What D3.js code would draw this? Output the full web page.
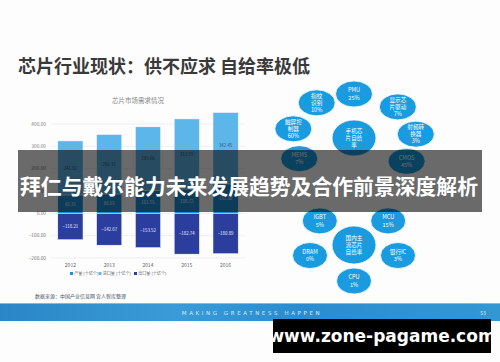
<!DOCTYPE html>
<html>
<head>
<meta charset="utf-8">
<script src="https://cdn.jsdelivr.net/npm/d3@7"></script>
<style>
  body { margin: 0; background: #fff; }
  svg { display: block; font-family: "Noto Sans CJK SC", "Noto Sans", sans-serif; }
</style>
</head>
<body>
<svg width="500" height="362"></svg>
<script>
// chart data (十亿个)
var years = ["2012", "2013", "2014", "2015", "2016"];
var production = [82.31, 86.65, 101.55, 108.72, 131.80];
var imports = [241.82, 266.31, 285.66, 313.99, 342.45];
var exports = [-118.21, -142.67, -153.52, -182.74, -180.89];
var yTicks = [-200, -100, 0, 100, 200, 300, 400];
var seriesNames = ["产量 (十亿个)", "进口量 (十亿个)", "出口量 (十亿个)"];

// bubble diagram
var phoneLabels = [["指纹", "识别", "10%"], ["PMU", "25%"], ["显示芯", "片驱动", "7%"], ["射频转", "换器", "3%"],
  ["CMOS", "45%"], ["MEMS", "7%"], ["触屏控", "制器", "60%"]];
var domesticLabels = [["IGBT", "5%"], ["MCU", "15%"], ["银行IC", "3%"], ["CPU", "1%"], ["DRAM", "0%"]];

var svg = d3.select("svg"),
  colors = ["#1f8fd6", "#5db6ea", "#2b3e9e"];

svg.append("rect").attr("width", 500).attr("height", 362).attr("fill", "#fdfdfd");

// page title
svg.append("text")
  .attr("x", 18).attr("y", 73)
  .attr("font-size", 18).attr("font-weight", "bold").attr("fill", "#3a3a3a")
  .text("芯片行业现状：供不应求 自给率极低");

// ---------- bar chart ----------
var x = d3.scaleBand().domain(years).range([51, 245]).paddingInner(0.35).paddingOuter(0.175);
var y = d3.scaleLinear().domain([-200, 450]).range([258, 112.8]);

svg.append("text")
  .attr("x", 138).attr("y", 103).attr("text-anchor", "middle")
  .attr("font-size", 6.5).attr("fill", "#888")
  .text("芯片市场需求情况");

var grid = svg.append("g");
grid.selectAll("line").data(yTicks).enter().append("line")
  .attr("x1", 51).attr("x2", 245)
  .attr("y1", function(d) { return y(d); }).attr("y2", function(d) { return y(d); })
  .attr("stroke", "#e6e6e6").attr("stroke-width", 0.6);
grid.selectAll("text").data(yTicks).enter().append("text")
  .attr("x", 46).attr("y", function(d) { return y(d) + 1.8; })
  .attr("text-anchor", "end").attr("font-size", 4.8).attr("fill", "#777")
  .text(function(d) { return d3.format(".2f")(d); });

// bars run past the top of the plot (2016) and get cut off
svg.append("clipPath").attr("id", "plot")
  .append("rect").attr("x", 40).attr("y", y(450)).attr("width", 220).attr("height", y(-200) - y(450) + 5);

var segs = [];
years.forEach(function(yr, i) {
  segs.push({year: yr, key: 0, v0: 0, v1: production[i], label: production[i]});
  segs.push({year: yr, key: 1, v0: production[i], v1: production[i] + imports[i], label: imports[i]});
  segs.push({year: yr, key: 2, v0: exports[i], v1: 0, label: exports[i]});
});

var bars = svg.append("g").attr("clip-path", "url(#plot)");
bars.selectAll("rect").data(segs).enter().append("rect")
  .attr("x", function(d) { return x(d.year); })
  .attr("width", x.bandwidth())
  .attr("y", function(d) { return y(d.v1); })
  .attr("height", function(d) { return y(d.v0) - y(d.v1); })
  .attr("fill", function(d) { return colors[d.key]; })
  .attr("stroke", "#fff").attr("stroke-width", 0.5);

svg.append("g").selectAll("text").data(segs).enter().append("text")
  .attr("x", function(d) { return x(d.year) + x.bandwidth() / 2; })
  .attr("y", function(d) { return y((d.v0 + d.v1) / 2) + 1.6; })
  .attr("text-anchor", "middle").attr("font-size", 4.4)
  .attr("fill", function(d) { return d.key == 1 ? "#3a4a5a" : "#e8ecf8"; })
  .text(function(d) { return d3.format(".2f")(d.label); });

svg.append("g").selectAll("text").data(years).enter().append("text")
  .attr("x", function(d) { return x(d) + x.bandwidth() / 2; })
  .attr("y", 267).attr("text-anchor", "middle")
  .attr("font-size", 5).attr("fill", "#666")
  .text(function(d) { return d; });

var legendX = [70, 98.5, 134];
var legend = svg.append("g").selectAll("g").data(seriesNames).enter().append("g")
  .attr("transform", function(d, i) { return "translate(" + legendX[i] + ",275)"; });
legend.append("rect").attr("x", 0).attr("y", -3).attr("width", 3).attr("height", 3)
  .attr("fill", function(d, i) { return colors[i]; });
legend.append("text").attr("x", 4.2).attr("y", 0)
  .attr("font-size", 4.1).attr("fill", "#666")
  .text(function(d) { return d; });

// source
svg.append("text")
  .attr("x", 35).attr("y", 297.5)
  .attr("font-size", 5).attr("fill", "#555")
  .text("数据来源：中国产业信息网 宜人智库整理");

// ---------- bubbles ----------
function bubbleGroup(center, labels, angles, ring, size) {
  var nodes = labels.map(function(l, i) {
    var t = angles[i] * Math.PI / 180;
    return {lines: l, x: center.x + ring[0] * Math.cos(t), y: center.y + ring[1] * Math.sin(t), rx: size[0], ry: size[1]};
  });
  nodes.push({lines: center.lines, x: center.x, y: center.y, rx: center.rx, ry: center.ry});
  var g = svg.append("g").selectAll("g").data(nodes).enter().append("g")
    .attr("transform", function(d) { return "translate(" + d.x + "," + d.y + ")"; });
  g.append("ellipse")
    .attr("rx", function(d) { return d.rx; }).attr("ry", function(d) { return d.ry; })
    .attr("fill", "#1a9be0").attr("stroke", "#fff").attr("stroke-width", 0.8);
  g.append("text")
    .attr("text-anchor", "middle").attr("fill", "#fff")
    .attr("font-size", 5.6)
    .selectAll("tspan").data(function(d) {
      var n = d.lines.length, lh = n > 2 ? 7 : 7.5;
      return d.lines.map(function(t, i) { return {t: t, dy: (i - (n - 1) / 2) * lh + 2}; });
    }).enter().append("tspan")
    .attr("x", 0).attr("y", function(d) { return d.dy; })
    .text(function(d) { return d.t; });
}

bubbleGroup({x: 354, y: 138, rx: 22, ry: 18, lines: ["手机芯", "片自给", "率"]},
  phoneLabels, [-127, -90, -45, -5, 32, 152, 192], [62, 44], [18.5, 13]);
bubbleGroup({x: 354, y: 245, rx: 22, ry: 19, lines: ["国内主", "流芯片", "自给率"]},
  domesticLabels, [-138, -42, 17, 90, 163], [46, 36], [17.5, 13]);

// ---------- footer ----------
var defs = svg.append("defs");
var grad = defs.append("linearGradient").attr("id", "foot");
[["0%", "#2a86c6"], ["35%", "#3a9bd8"], ["60%", "#2a8ccf"], ["100%", "#3397d4"]].forEach(function(s) {
  grad.append("stop").attr("offset", s[0]).attr("stop-color", s[1]);
});
svg.append("rect").attr("x", 0).attr("y", 303).attr("width", 500).attr("height", 18).attr("fill", "url(#foot)");
svg.append("rect").attr("x", 0).attr("y", 303).attr("width", 500).attr("height", 0.8).attr("fill", "#8cc8ee");
svg.append("text")
  .attr("x", 252).attr("y", 314.5).attr("text-anchor", "middle")
  .attr("font-size", 5.5).attr("letter-spacing", 2.6).attr("fill", "#d6ecfa")
  .attr("font-family", "DejaVu Sans, sans-serif")
  .text("MAKING GREATNESS HAPPEN");
svg.append("text")
  .attr("x", 483).attr("y", 314.5).attr("text-anchor", "middle")
  .attr("font-size", 5).attr("fill", "#d6ecfa")
  .text("53");

// ---------- overlay banner ----------
svg.append("rect").attr("x", 18).attr("y", 150).attr("width", 464).attr("height", 62)
  .attr("fill", "rgba(0,0,0,0.58)");
svg.append("text")
  .attr("x", 20).attr("y", 194)
  .attr("font-size", 21).attr("font-weight", "bold").attr("fill", "#fff")
  .attr("textLength", 458).attr("lengthAdjust", "spacingAndGlyphs")
  .text("拜仁与戴尔能力未来发展趋势及合作前景深度解析");

// watermark
svg.append("rect").attr("x", 273).attr("y", 319).attr("width", 218).attr("height", 34).attr("fill", "#000");
svg.append("text")
  .attr("x", 382).attr("y", 342).attr("text-anchor", "middle")
  .attr("font-size", 17).attr("font-weight", "bold").attr("fill", "#fff")
  .attr("font-family", "DejaVu Sans, sans-serif")
  .text("www.zone-pagame.com");
</script>
</body>
</html>
